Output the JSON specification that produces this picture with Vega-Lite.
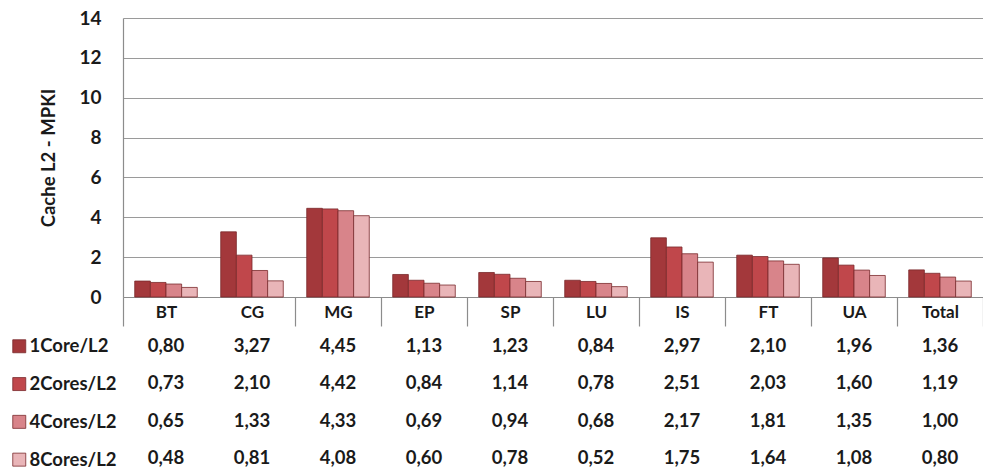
{
  "$schema": "https://vega.github.io/schema/vega-lite/v6.json",
  "padding": {"left": 10, "top": 9, "right": 0, "bottom": 0},
  "config": {
    "view": {"stroke": null},
    "font": "Lato",
    "concat": {"spacing": 0},
    "locale": {"number": {"decimal": ",", "thousands": ".", "grouping": [3], "currency": ["", " €"]}}
  },
  "data": {"values": [
    {"cat": "BT", "series": "1Core/L2", "value": 0.80},
    {"cat": "BT", "series": "2Cores/L2", "value": 0.73},
    {"cat": "BT", "series": "4Cores/L2", "value": 0.65},
    {"cat": "BT", "series": "8Cores/L2", "value": 0.48},
    {"cat": "CG", "series": "1Core/L2", "value": 3.27},
    {"cat": "CG", "series": "2Cores/L2", "value": 2.10},
    {"cat": "CG", "series": "4Cores/L2", "value": 1.33},
    {"cat": "CG", "series": "8Cores/L2", "value": 0.81},
    {"cat": "MG", "series": "1Core/L2", "value": 4.45},
    {"cat": "MG", "series": "2Cores/L2", "value": 4.42},
    {"cat": "MG", "series": "4Cores/L2", "value": 4.33},
    {"cat": "MG", "series": "8Cores/L2", "value": 4.08},
    {"cat": "EP", "series": "1Core/L2", "value": 1.13},
    {"cat": "EP", "series": "2Cores/L2", "value": 0.84},
    {"cat": "EP", "series": "4Cores/L2", "value": 0.69},
    {"cat": "EP", "series": "8Cores/L2", "value": 0.60},
    {"cat": "SP", "series": "1Core/L2", "value": 1.23},
    {"cat": "SP", "series": "2Cores/L2", "value": 1.14},
    {"cat": "SP", "series": "4Cores/L2", "value": 0.94},
    {"cat": "SP", "series": "8Cores/L2", "value": 0.78},
    {"cat": "LU", "series": "1Core/L2", "value": 0.84},
    {"cat": "LU", "series": "2Cores/L2", "value": 0.78},
    {"cat": "LU", "series": "4Cores/L2", "value": 0.68},
    {"cat": "LU", "series": "8Cores/L2", "value": 0.52},
    {"cat": "IS", "series": "1Core/L2", "value": 2.97},
    {"cat": "IS", "series": "2Cores/L2", "value": 2.51},
    {"cat": "IS", "series": "4Cores/L2", "value": 2.17},
    {"cat": "IS", "series": "8Cores/L2", "value": 1.75},
    {"cat": "FT", "series": "1Core/L2", "value": 2.10},
    {"cat": "FT", "series": "2Cores/L2", "value": 2.03},
    {"cat": "FT", "series": "4Cores/L2", "value": 1.81},
    {"cat": "FT", "series": "8Cores/L2", "value": 1.64},
    {"cat": "UA", "series": "1Core/L2", "value": 1.96},
    {"cat": "UA", "series": "2Cores/L2", "value": 1.60},
    {"cat": "UA", "series": "4Cores/L2", "value": 1.35},
    {"cat": "UA", "series": "8Cores/L2", "value": 1.08},
    {"cat": "Total", "series": "1Core/L2", "value": 1.36},
    {"cat": "Total", "series": "2Cores/L2", "value": 1.19},
    {"cat": "Total", "series": "4Cores/L2", "value": 1.00},
    {"cat": "Total", "series": "8Cores/L2", "value": 0.80}
  ]},
  "vconcat": [
    {
      "width": 860,
      "height": 279,
      "mark": {"type": "bar", "stroke": "#7a2a2c", "strokeWidth": 0.8},
      "encoding": {
        "x": {
          "field": "cat", "type": "nominal",
          "sort": ["BT", "CG", "MG", "EP", "SP", "LU", "IS", "FT", "UA", "Total"],
          "scale": {"paddingInner": 0, "paddingOuter": 0},
          "axis": {
            "title": null, "labelAngle": 0, "tickBand": "extent",
            "ticks": true, "tickSize": 29, "tickColor": "#8c8c8c", "tickWidth": 1.2,
            "tickOpacity": {"condition": {"test": "datum.value === 'BT'", "value": 0}, "value": 1},
            "labelPadding": -22, "labelBaseline": "top",
            "domainColor": "#8c8c8c", "domainWidth": 1.2,
            "labelFontSize": 17, "labelFontWeight": "bold", "labelColor": "#1a1a1a"
          }
        },
        "xOffset": {
          "field": "series", "type": "nominal",
          "sort": ["1Core/L2", "2Cores/L2", "4Cores/L2", "8Cores/L2"],
          "scale": {"paddingInner": 0, "paddingOuter": 0.75}
        },
        "y": {
          "field": "value", "type": "quantitative",
          "scale": {"domain": [0, 14]},
          "axis": {
            "title": "Cache L2 - MPKI", "titleFontSize": 18.5, "titleFontWeight": "bold", "titleColor": "#1a1a1a",
            "titlePadding": 20,
            "values": [0, 2, 4, 6, 8, 10, 12, 14], "format": "d",
            "ticks": false, "labelPadding": 22,
            "labelFontSize": 19, "labelFontWeight": "bold", "labelColor": "#1a1a1a",
            "gridColor": "#9a9a9a", "gridWidth": 1.2, "gridOpacity": 1,
            "domainColor": "#8c8c8c", "domainWidth": 1.2
          }
        },
        "color": {
          "field": "series", "type": "nominal",
          "sort": ["1Core/L2", "2Cores/L2", "4Cores/L2", "8Cores/L2"],
          "scale": {"range": ["#a3383b", "#c0474b", "#d8848a", "#e9b5b8"]},
          "legend": {
            "orient": "none", "legendX": -113, "legendY": 319,
            "title": null, "symbolType": "square", "symbolSize": 169,
            "symbolStrokeColor": "#7a2a2c", "symbolStrokeWidth": 0.8,
            "labelFontSize": 18.5, "labelFontWeight": "bold", "labelColor": "#1a1a1a",
            "rowPadding": 18.8, "labelOffset": 1
          }
        }
      }
    },
    {
      "width": 860,
      "height": 140,
      "mark": {"type": "text", "fontSize": 18.5, "fontWeight": "bold", "color": "#1a1a1a"},
      "encoding": {
        "x": {
          "field": "cat", "type": "nominal",
          "sort": ["BT", "CG", "MG", "EP", "SP", "LU", "IS", "FT", "UA", "Total"],
          "scale": {"paddingInner": 0, "paddingOuter": 0},
          "axis": null
        },
        "y": {
          "field": "series", "type": "nominal",
          "sort": ["1Core/L2", "2Cores/L2", "4Cores/L2", "8Cores/L2"],
          "scale": {"type": "point", "padding": 0.377, "align": 0.68},
          "axis": null
        },
        "text": {"field": "value", "type": "quantitative", "format": ".2f"}
      }
    }
  ]
}
